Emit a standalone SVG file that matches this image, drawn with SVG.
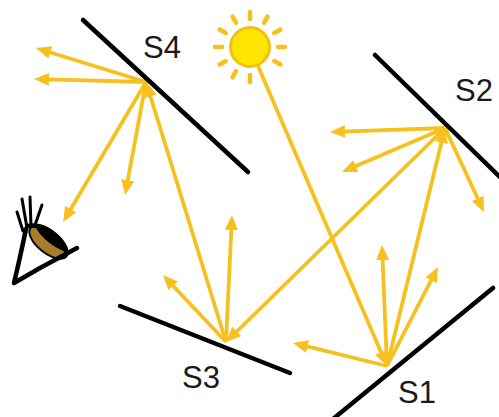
<svg xmlns="http://www.w3.org/2000/svg" width="499" height="417" viewBox="0 0 499 417">
  <defs>
    <marker id="arrow" viewBox="0 0 15 13" markerWidth="15" markerHeight="13" refX="10" refY="6.5" orient="auto" markerUnits="userSpaceOnUse">
      <path d="M0,0 L15,6.5 L0,13 z" fill="#f6c11f"/>
    </marker>
    <clipPath id="irisClip">
      <ellipse cx="48.5" cy="242" rx="23" ry="11" transform="rotate(39 48.5 242)"/>
    </clipPath>
    <style>
      .ray { stroke: #f6c11f; stroke-width: 3.8; fill: none; marker-end: url(#arrow); }
      .mirror { stroke: #000; stroke-width: 4.5; stroke-linecap: round; }
      .label { font-family: "Liberation Sans", Arial, sans-serif; font-size: 31px; fill: #1a1a1a; }
      .sunray { stroke: #f6c11f; stroke-width: 4.5; stroke-linecap: round; }
      .ink { stroke: #000; fill: none; stroke-linecap: round; stroke-linejoin: round; }
    </style>
  </defs>

  <rect width="499" height="417" fill="#fff"/>

  <!-- light paths -->
  <g id="connectors">
    <!-- sun to S1 -->
    <line class="ray" x1="258" y1="66" x2="385" y2="361.4"/>
    <!-- scattered at S1 -->
    <line class="ray" x1="387" y1="366" x2="297.9" y2="344.2"/>
    <line class="ray" x1="387" y1="366" x2="382.2" y2="250"/>
    <line class="ray" x1="387" y1="366" x2="435.7" y2="271.4"/>
    <line class="ray" x1="387" y1="366" x2="443.8" y2="132.9"/>
    <!-- scattered at S2 -->
    <line class="ray" x1="445" y1="128" x2="335" y2="131.8"/>
    <line class="ray" x1="445" y1="128" x2="346.6" y2="170"/>
    <line class="ray" x1="445" y1="128" x2="481.9" y2="207.5"/>
    <line class="ray" x1="445" y1="128" x2="229.6" y2="338.5"/>
    <!-- scattered at S3 -->
    <line class="ray" x1="226" y1="342" x2="166.4" y2="278.6"/>
    <line class="ray" x1="226" y1="342" x2="231.8" y2="220"/>
    <line class="ray" x1="226" y1="342" x2="147.5" y2="86.8"/>
    <!-- scattered at S4 -->
    <line class="ray" x1="146" y1="82" x2="40.8" y2="49.5"/>
    <line class="ray" x1="146" y1="82" x2="39" y2="79.1"/>
    <line class="ray" x1="146" y1="82" x2="125.9" y2="190.1"/>
    <line class="ray" x1="146" y1="82" x2="65.6" y2="217.7"/>
  </g>

  <!-- surfaces -->
  <g id="s1">
    <line class="mirror" x1="493" y1="288" x2="333" y2="419"/>
    <text class="label" x="398" y="403">S1</text>
  </g>
  <g id="s2">
    <line class="mirror" x1="375" y1="55" x2="501" y2="178"/>
    <text class="label" x="455" y="101">S2</text>
  </g>
  <g id="s3">
    <line class="mirror" x1="120" y1="306" x2="290" y2="373"/>
    <text class="label" x="182" y="388">S3</text>
  </g>
  <g id="s4">
    <line class="mirror" x1="83" y1="20" x2="248" y2="172"/>
    <text class="label" x="143" y="58">S4</text>
  </g>

  <!-- sun -->
  <g id="sun">
    <g transform="translate(250 47)">
      <line class="sunray" x1="0" y1="-28" x2="0" y2="-35"/>
      <line class="sunray" x1="0" y1="-28" x2="0" y2="-35" transform="rotate(30)"/>
      <line class="sunray" x1="0" y1="-28" x2="0" y2="-35" transform="rotate(60)"/>
      <line class="sunray" x1="0" y1="-28" x2="0" y2="-35" transform="rotate(90)"/>
      <line class="sunray" x1="0" y1="-28" x2="0" y2="-35" transform="rotate(120)"/>
      <line class="sunray" x1="0" y1="-28" x2="0" y2="-35" transform="rotate(180)"/>
      <line class="sunray" x1="0" y1="-28" x2="0" y2="-35" transform="rotate(210)"/>
      <line class="sunray" x1="0" y1="-28" x2="0" y2="-35" transform="rotate(240)"/>
      <line class="sunray" x1="0" y1="-28" x2="0" y2="-35" transform="rotate(270)"/>
      <line class="sunray" x1="0" y1="-28" x2="0" y2="-35" transform="rotate(300)"/>
      <line class="sunray" x1="0" y1="-28" x2="0" y2="-35" transform="rotate(330)"/>
      <circle r="19.5" fill="#ffe600" stroke="#f5bf10" stroke-width="3"/>
    </g>
  </g>

  <!-- eye -->
  <g id="eye">
    <!-- lashes -->
    <path class="ink" stroke-width="3" d="M23,231 L17,212 M27,228 L22,199 M31,226 L30,197 M35,225 L42,205"/>
    <!-- iris with dark upper half -->
    <ellipse cx="48.5" cy="242" rx="23" ry="11" transform="rotate(39 48.5 242)" fill="#a77d2c" stroke="#000" stroke-width="2"/>
    <g clip-path="url(#irisClip)">
      <ellipse cx="54" cy="235" rx="24" ry="9" transform="rotate(39 54 235)" fill="#000"/>
    </g>
    <!-- lids -->
    <path class="ink" stroke-width="4.5" d="M27,226 Q52,222 67,253"/>
    <path class="ink" stroke-width="4.5" d="M26,229 Q20,258 14,283 L40,268 L77,248"/>
  </g>
</svg>
